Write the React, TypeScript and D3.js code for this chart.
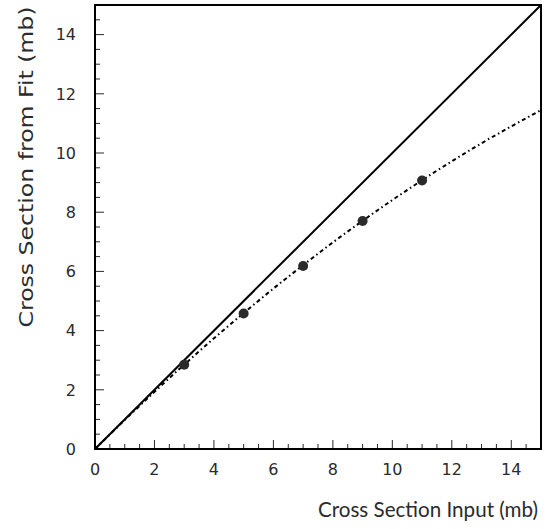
import React, { useRef, useEffect } from 'react';
import * as d3 from 'd3';

const width = 552;
const height = 529;
const margin = { top: 5, right: 11, bottom: 80, left: 95 };

// measured points
const inputXs = [3, 5, 7, 9, 11];
const fitYs = [2.85, 4.58, 6.18, 7.7, 9.07];

// fitted curve, read at each integer input
const curveXs = [0, 1, 2, 3, 4, 5, 6, 7, 8, 9, 10, 11, 12, 13, 14, 15];
const curveYs = [0, 0.98, 1.93, 2.85, 3.74, 4.59, 5.42, 6.21, 6.98, 7.71, 8.41, 9.08, 9.72, 10.33, 10.9, 11.45];

const majorTicks = [0, 2, 4, 6, 8, 10, 12, 14];
const xTitle = 'Cross Section Input (mb)';
const yTitle = 'Cross Section from Fit (mb)';

const tickFont = '"DejaVu Sans", sans-serif';
const titleFont = '"DejaVu Sans", sans-serif';
const ink = '#2b2b2b';

const App = () => {
  const ref = useRef<SVGGElement>(null);

  useEffect(() => {
    if (!ref.current) return;
    const g = d3.select(ref.current);
    g.selectAll('*').remove();

    const iw = width - margin.left - margin.right;
    const ih = height - margin.top - margin.bottom;
    const x = d3.scaleLinear([0, 15], [0, iw]);
    const y = d3.scaleLinear([0, 15], [ih, 0]);

    const minor = d3.range(0, 15.01, 0.5);

    // inside ticks
    g.selectAll('.xt').data(minor).join('line')
      .attr('x1', d => x(d)).attr('x2', d => x(d))
      .attr('y1', ih).attr('y2', d => ih - (d % 2 === 0 ? 9 : 5))
      .attr('stroke', ink).attr('stroke-width', 1);
    g.selectAll('.yt').data(minor).join('line')
      .attr('y1', d => y(d)).attr('y2', d => y(d))
      .attr('x1', 0).attr('x2', d => (d % 2 === 0 ? 9 : 5))
      .attr('stroke', ink).attr('stroke-width', 1);

    // tick labels
    g.selectAll('.xl').data(majorTicks).join('text')
      .attr('x', d => x(d)).attr('y', ih + 26)
      .attr('text-anchor', 'middle')
      .attr('font-family', tickFont).attr('font-size', 16).attr('fill', ink)
      .text(d => d);
    g.selectAll('.yl').data(majorTicks).join('text')
      .attr('x', -19).attr('y', d => y(d)).attr('dy', '0.36em')
      .attr('text-anchor', 'end')
      .attr('font-family', tickFont).attr('font-size', 16).attr('fill', ink)
      .text(d => d);

    // identity line
    g.append('line')
      .attr('x1', x(0)).attr('y1', y(0)).attr('x2', x(15)).attr('y2', y(15))
      .attr('stroke', '#000').attr('stroke-width', 2);

    // fit curve
    const line = d3.line<number>().x((d, i) => x(curveXs[i])).y(d => y(d)).curve(d3.curveMonotoneX);
    g.append('path')
      .attr('d', line(curveYs))
      .attr('fill', 'none').attr('stroke', '#000').attr('stroke-width', 2)
      .attr('stroke-dasharray', '4,3,1.5,3');

    // points
    g.selectAll('.pt').data(fitYs).join('circle')
      .attr('cx', (d, i) => x(inputXs[i])).attr('cy', d => y(d))
      .attr('r', 5).attr('fill', '#2a2a2a');

    // frame
    g.append('rect')
      .attr('width', iw).attr('height', ih)
      .attr('fill', 'none').attr('stroke', '#000').attr('stroke-width', 2);

    // axis titles
    g.append('text')
      .attr('x', iw - 3).attr('y', ih + 68)
      .attr('text-anchor', 'end')
      .attr('font-family', 'Lato, sans-serif').attr('font-size', 21).attr('fill', ink)
      .attr('textLength', 220).attr('lengthAdjust', 'spacingAndGlyphs')
      .text(xTitle);
    g.append('text')
      .attr('transform', `translate(${33 - margin.left},${167 - margin.top}) rotate(-90)`)
      .attr('text-anchor', 'middle')
      .attr('font-family', titleFont).attr('font-size', 20).attr('fill', ink)
      .attr('textLength', 321).attr('lengthAdjust', 'spacingAndGlyphs')
      .text(yTitle);
  }, []);

  return (
    <svg width={width} height={height} style={{ position: 'absolute', left: 0, top: 0, background: '#fff' }}>
      <g ref={ref} transform={`translate(${margin.left},${margin.top})`} />
    </svg>
  );
};

export default App;
